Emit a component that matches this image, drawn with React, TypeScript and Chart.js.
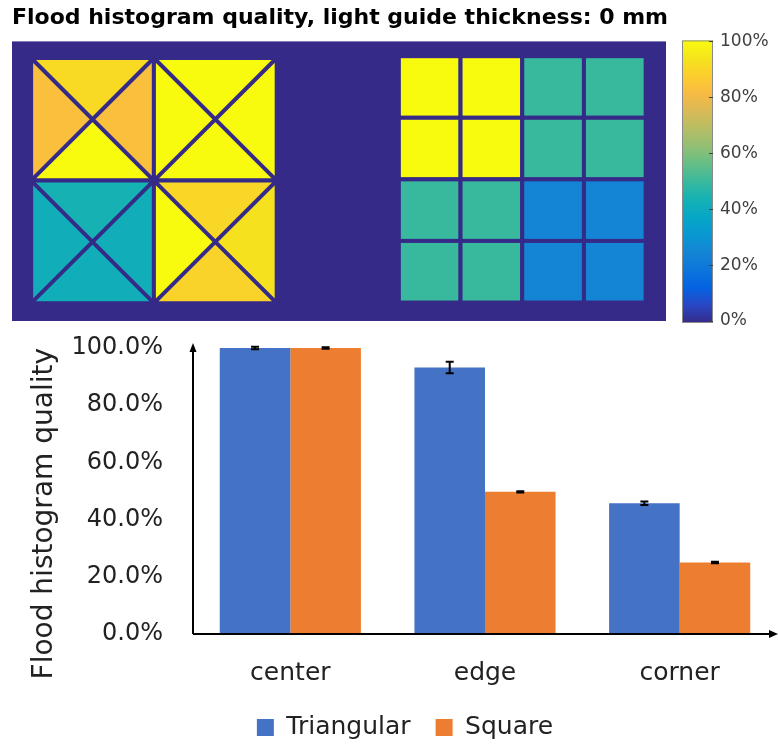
import { useEffect, useRef } from 'react';
import { Chart, registerables } from 'chart.js';

Chart.register(...registerables);

// ---- crystal map: flood histogram quality per crystal (percent) ----
// Triangular array: 2x2 blocks (TL, TR, BL, BR), each cut into four triangles
const TRI_TOP = [91, 100, 44, 90];
const TRI_RIGHT = [83, 100, 42, 93];
const TRI_BOTTOM = [100, 100, 42, 89];
const TRI_LEFT = [83, 100, 42, 100];

// Square array: 4x4 crystals, rows from top
const SQ_ROW_1 = [100, 100, 50, 50];
const SQ_ROW_2 = [100, 100, 50, 50];
const SQ_ROW_3 = [50, 50, 25, 25];
const SQ_ROW_4 = [50, 50, 25, 25];

const COLORBAR_TICKS = [0, 20, 40, 60, 80, 100];

// ---- bar chart ----
const CATEGORIES = ['center', 'edge', 'corner'];
const TRIANGULAR = [100, 93.2, 45.7];
const TRIANGULAR_ERR = [0.4, 2.0, 0.6];
const SQUARE = [100, 49.7, 25.0];
const SQUARE_ERR = [0.3, 0.2, 0.3];
const Y_TICKS = [0, 20, 40, 60, 80, 100];

// map geometry in crystal-pitch units
const MAP_W = 10.6;
const MAP_H = 4.54;
const TRI_X0 = 0.31;
const TRI_Y0 = 0.27;
const TRI_PITCH = 1.99;
const SQ_X0 = 6.27;
const SQ_Y0 = 0.24;
const SQ_PITCH = 1.0;

const SANS = '"DejaVu Sans", Verdana, sans-serif';

const PARULA: [number, string][] = [
  [0.0, '#352a87'],
  [0.063, '#2a47c4'],
  [0.125, '#0363e1'],
  [0.188, '#0d75dc'],
  [0.25, '#1485d4'],
  [0.313, '#0998d1'],
  [0.375, '#06a7c6'],
  [0.438, '#15b1b4'],
  [0.5, '#38b99e'],
  [0.563, '#65be86'],
  [0.625, '#92bf73'],
  [0.688, '#b7bd64'],
  [0.75, '#d9ba56'],
  [0.813, '#f8ba43'],
  [0.875, '#fcce2e'],
  [0.938, '#f5e41d'],
  [1.0, '#f9fb0e'],
];

function hexToRgb(h: string) {
  const n = parseInt(h.slice(1), 16);
  return [(n >> 16) & 255, (n >> 8) & 255, n & 255];
}

function parula(pct: number) {
  const t = Math.max(0, Math.min(1, pct / 100));
  for (let i = 1; i < PARULA.length; i++) {
    const [t1, c1] = PARULA[i];
    if (t <= t1) {
      const [t0, c0] = PARULA[i - 1];
      const f = (t - t0) / (t1 - t0);
      const a = hexToRgb(c0);
      const b = hexToRgb(c1);
      const c = a.map((v, k) => Math.round(v + (b[k] - v) * f));
      return `rgb(${c[0]},${c[1]},${c[2]})`;
    }
  }
  return PARULA[PARULA.length - 1][1];
}

// keep tick-label padding from spilling into the layout margins
const noScalePadding = (scale: any) => {
  scale.paddingTop = 0;
  scale.paddingBottom = 0;
  scale.paddingLeft = 0;
  scale.paddingRight = 0;
};

const crystalMapPlugin = {
  id: 'crystalMap',
  beforeDatasetsDraw(chart: any) {
    const { ctx, chartArea } = chart;
    const { x, y, cb } = chart.scales;
    const px = (v: number) => x.getPixelForValue(v);
    const py = (v: number) => y.getPixelForValue(v);
    const bg = parula(0);

    ctx.save();
    ctx.fillStyle = bg;
    ctx.fillRect(px(0), py(0), px(MAP_W) - px(0), py(MAP_H) - py(0));

    ctx.strokeStyle = bg;
    ctx.lineWidth = 4;

    // triangular crystals
    const tri = (pts: number[][], value: number) => {
      ctx.beginPath();
      ctx.moveTo(px(pts[0][0]), py(pts[0][1]));
      for (let k = 1; k < pts.length; k++) ctx.lineTo(px(pts[k][0]), py(pts[k][1]));
      ctx.closePath();
      ctx.fillStyle = parula(value);
      ctx.fill();
    };
    for (let i = 0; i < 4; i++) {
      const r = Math.floor(i / 2);
      const c = i % 2;
      const x0 = TRI_X0 + c * TRI_PITCH;
      const y0 = TRI_Y0 + r * TRI_PITCH;
      const x1 = x0 + TRI_PITCH;
      const y1 = y0 + TRI_PITCH;
      const cx = (x0 + x1) / 2;
      const cy = (y0 + y1) / 2;
      tri([[x0, y0], [x1, y0], [cx, cy]], TRI_TOP[i]);
      tri([[x1, y0], [x1, y1], [cx, cy]], TRI_RIGHT[i]);
      tri([[x1, y1], [x0, y1], [cx, cy]], TRI_BOTTOM[i]);
      tri([[x0, y1], [x0, y0], [cx, cy]], TRI_LEFT[i]);
      ctx.beginPath();
      ctx.rect(px(x0), py(y0), px(x1) - px(x0), py(y1) - py(y0));
      ctx.moveTo(px(x0), py(y0));
      ctx.lineTo(px(x1), py(y1));
      ctx.moveTo(px(x1), py(y0));
      ctx.lineTo(px(x0), py(y1));
      ctx.stroke();
    }

    // square crystals
    const rows = [SQ_ROW_1, SQ_ROW_2, SQ_ROW_3, SQ_ROW_4];
    rows.forEach((row, r) => {
      row.forEach((value, c) => {
        const x0 = SQ_X0 + c * SQ_PITCH;
        const y0 = SQ_Y0 + r * SQ_PITCH;
        const l = px(x0);
        const t = py(y0);
        const w = px(x0 + SQ_PITCH) - l;
        const h = py(y0 + SQ_PITCH) - t;
        ctx.fillStyle = parula(value);
        ctx.fillRect(l, t, w, h);
        ctx.strokeRect(l, t, w, h);
      });
    });

    // colour bar
    const bl = chartArea.right + 16;
    const bw = 31;
    const bt = cb.getPixelForValue(100) - 1;
    const bb = cb.getPixelForValue(0) + 2;
    const grad = ctx.createLinearGradient(0, bb, 0, bt);
    PARULA.forEach(([t, col]) => grad.addColorStop(t, col));
    ctx.fillStyle = grad;
    ctx.fillRect(bl, bt, bw, bb - bt);
    ctx.strokeStyle = '#8a8a8a';
    ctx.lineWidth = 1;
    ctx.strokeRect(bl + 0.5, bt + 0.5, bw - 1, bb - bt - 1);
    ctx.strokeStyle = '#404040';
    COLORBAR_TICKS.forEach((v) => {
      const yy = Math.round(cb.getPixelForValue(v)) + 0.5;
      ctx.beginPath();
      ctx.moveTo(bl + bw - 4, yy);
      ctx.lineTo(bl + bw, yy);
      ctx.stroke();
    });
    ctx.restore();
  },
};

const errorBarPlugin = {
  id: 'errorBars',
  afterDatasetsDraw(chart: any) {
    const { ctx } = chart;
    const yScale = chart.scales.y;
    const errs = [TRIANGULAR_ERR, SQUARE_ERR];
    ctx.save();
    ctx.strokeStyle = '#000';
    ctx.lineWidth = 2;
    chart.data.datasets.forEach((ds: any, d: number) => {
      const meta = chart.getDatasetMeta(d);
      meta.data.forEach((bar: any, i: number) => {
        const v = ds.data[i];
        const e = errs[d][i];
        const yt = yScale.getPixelForValue(v + e);
        const yb = yScale.getPixelForValue(v - e);
        const xc = bar.x;
        ctx.beginPath();
        ctx.moveTo(xc, yt);
        ctx.lineTo(xc, yb);
        ctx.moveTo(xc - 4, yt);
        ctx.lineTo(xc + 4, yt);
        ctx.moveTo(xc - 4, yb);
        ctx.lineTo(xc + 4, yb);
        ctx.stroke();
      });
    });
    ctx.restore();
  },
};

const axisArrowPlugin = {
  id: 'axisArrows',
  afterDatasetsDraw(chart: any) {
    const { ctx, chartArea } = chart;
    const { left, right, top, bottom } = chartArea;
    ctx.save();
    ctx.strokeStyle = '#000';
    ctx.fillStyle = '#000';
    ctx.lineWidth = 2;
    ctx.beginPath();
    ctx.moveTo(left, bottom);
    ctx.lineTo(left, top - 1);
    ctx.moveTo(left, bottom);
    ctx.lineTo(right - 6, bottom);
    ctx.stroke();
    ctx.beginPath();
    ctx.moveTo(left, top - 5);
    ctx.lineTo(left - 3.5, top + 4);
    ctx.lineTo(left + 3.5, top + 4);
    ctx.closePath();
    ctx.fill();
    ctx.beginPath();
    ctx.moveTo(right + 1, bottom);
    ctx.lineTo(right - 8, bottom - 4);
    ctx.lineTo(right - 8, bottom + 4);
    ctx.closePath();
    ctx.fill();
    ctx.restore();
  },
};

export default function App() {
  const topRef = useRef<HTMLCanvasElement>(null);
  const botRef = useRef<HTMLCanvasElement>(null);

  useEffect(() => {
    document.body.style.margin = '0';

    const mapChart = new Chart(topRef.current as HTMLCanvasElement, {
      type: 'scatter',
      data: { datasets: [] },
      plugins: [crystalMapPlugin],
      options: {
        responsive: false,
        animation: false,
        layout: { padding: { left: 12, right: 0, top: 0, bottom: 9 } },
        plugins: {
          legend: { display: false },
          tooltip: { enabled: false },
          title: {
            display: true,
            text: 'Flood histogram quality, light guide thickness: 0 mm',
            align: 'start',
            color: '#000',
            font: { family: SANS, size: 22, weight: 'bold', lineHeight: 1.2 },
            padding: { top: 5, bottom: 10 },
          },
        },
        scales: {
          x: { type: 'linear', min: 0, max: MAP_W, display: false },
          y: { type: 'linear', min: 0, max: MAP_H, reverse: true, display: false },
          cb: {
            type: 'linear',
            position: 'right',
            min: 0,
            max: 100,
            afterBuildTicks: (scale: any) => {
              scale.ticks = COLORBAR_TICKS.map((v) => ({ value: v }));
            },
            afterFit: (scale: any) => {
              scale.width = 112;
              noScalePadding(scale);
            },
            grid: { display: false, drawTicks: false, tickLength: 0 },
            border: { display: false },
            ticks: {
              padding: 54,
              color: '#404040',
              font: { family: SANS, size: 17 },
              callback: (v: any) => `${v}%`,
            },
          },
        },
      } as any,
    });

    const barChart = new Chart(botRef.current as HTMLCanvasElement, {
      type: 'bar',
      data: {
        labels: CATEGORIES,
        datasets: [
          { label: 'Triangular', data: TRIANGULAR, backgroundColor: '#4472c4', borderWidth: 0 },
          { label: 'Square', data: SQUARE, backgroundColor: '#ed7d31', borderWidth: 0 },
        ],
      },
      plugins: [errorBarPlugin, axisArrowPlugin],
      options: {
        responsive: false,
        animation: false,
        layout: { padding: { left: 33, right: 1, top: 18, bottom: 6 } },
        datasets: { bar: { barPercentage: 1, categoryPercentage: 0.725 } },
        plugins: {
          tooltip: { enabled: false },
          legend: {
            position: 'bottom',
            labels: {
              boxWidth: 17,
              boxHeight: 17,
              padding: 25,
              color: '#222',
              font: { family: SANS, size: 25 },
            },
          },
        },
        scales: {
          x: {
            afterFit: (scale: any) => {
              scale.height = 56;
              noScalePadding(scale);
            },
            grid: { display: false, drawTicks: false, tickLength: 0 },
            border: { display: false },
            ticks: {
              padding: 24,
              color: '#222',
              font: { family: SANS, size: 25, lineHeight: 1.2 },
            },
          },
          y: {
            min: 0,
            max: 100,
            afterBuildTicks: (scale: any) => {
              scale.ticks = Y_TICKS.map((v) => ({ value: v }));
            },
            afterFit: (scale: any) => {
              scale.width = 160;
              noScalePadding(scale);
            },
            grid: { display: false, drawTicks: false, tickLength: 0 },
            border: { display: false },
            title: {
              display: true,
              text: 'Flood histogram quality',
              align: 'end',
              color: '#222',
              padding: 0,
              font: { family: SANS, size: 28, lineHeight: 0.82 },
            },
            ticks: {
              padding: 30,
              color: '#222',
              font: { family: SANS, size: 24 },
              callback: (v: any) => `${Number(v).toFixed(1)}%`,
            },
          },
        },
      } as any,
    });

    return () => {
      mapChart.destroy();
      barChart.destroy();
    };
  }, []);

  return (
    <div style={{ width: 778, height: 745, overflow: 'hidden', background: '#fff' }}>
      <div style={{ width: 778, height: 330 }}>
        <canvas ref={topRef} width={778} height={330} style={{ display: 'block', width: 778, height: 330 }} />
      </div>
      <div style={{ width: 778, height: 415, overflow: 'hidden' }}>
        <canvas ref={botRef} width={778} height={426} style={{ display: 'block', width: 778, height: 426 }} />
      </div>
    </div>
  );
}
